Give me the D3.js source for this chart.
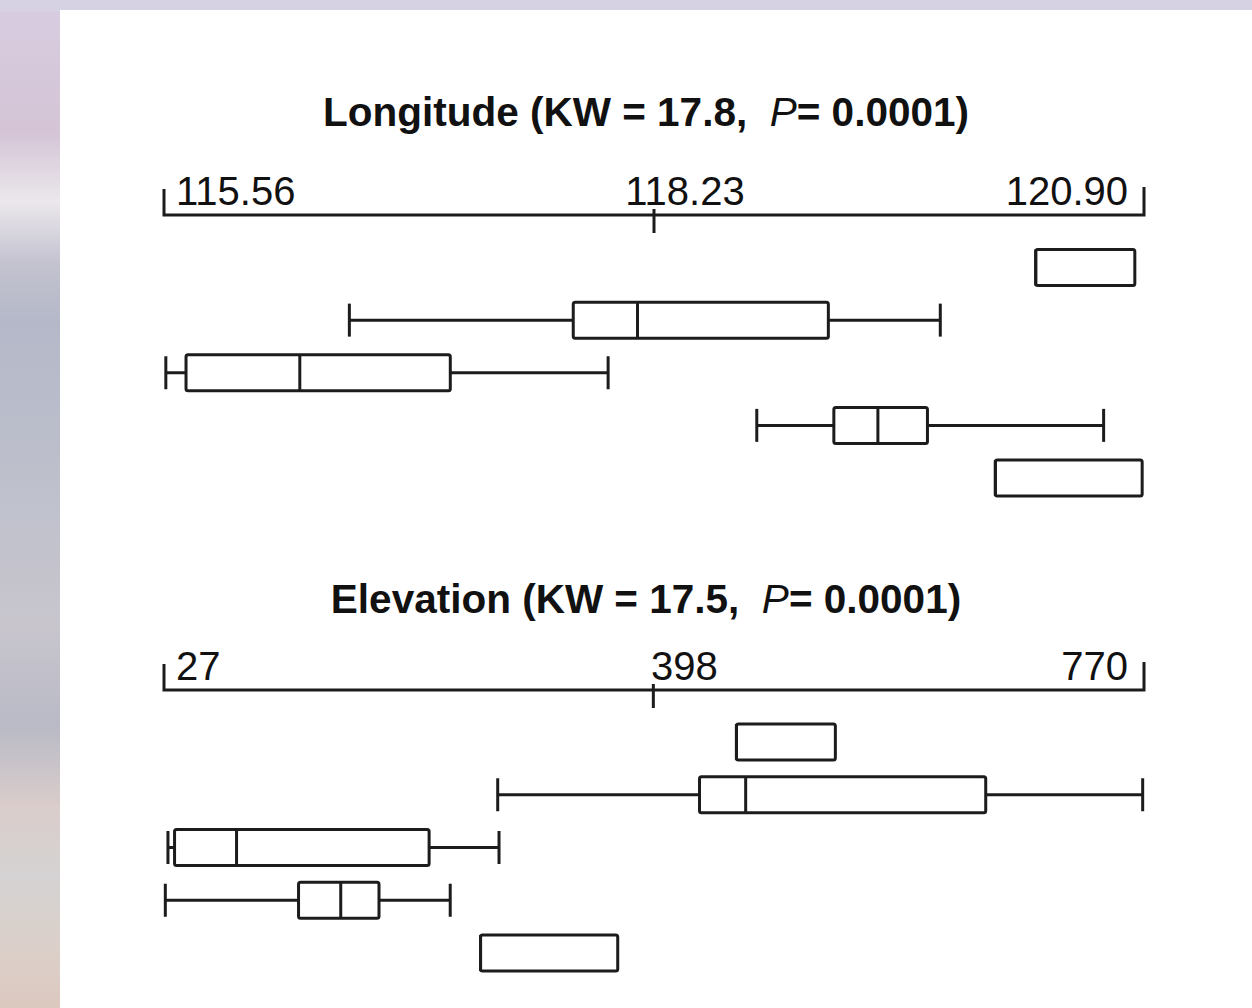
<!DOCTYPE html>
<html>
<head>
<meta charset="utf-8">
<script src="https://cdn.jsdelivr.net/npm/d3@7"></script>
<style>
  body { margin: 0; }
  svg { display: block; }
</style>
</head>
<body>
<div id="chart"></div>
<script>
// five groups, one box per row (top to bottom)
const groups = ['1', '2', '3', '4', '5'];

// Longitude (degrees E)
const lonTicks = [115.56, 118.23, 120.90];
const lonMin = [120.31, 116.57, 115.57, 118.79, 120.09];
const lonQ1  = [120.31, 117.79, 115.68, 119.21, 120.09];
const lonMed = [120.31, 118.14, 116.30, 119.45, 120.09];
const lonQ3  = [120.85, 119.18, 117.12, 119.72, 120.89];
const lonMax = [120.85, 119.79, 117.98, 120.68, 120.89];

// Elevation (m)
const elevTicks = [27, 398, 770];
const elevMin = [461, 280, 30, 28, 267];
const elevQ1  = [461, 433, 35, 129, 267];
const elevMed = [461, 468, 82, 161, 267];
const elevQ3  = [536, 650, 228, 190, 371];
const elevMax = [536, 769, 281, 244, 371];

const W = 1252, H = 1008;
const INK = '#1c1c1c';

const svg = d3.select('#chart').append('svg')
    .attr('width', W)
    .attr('height', H);

// blurred photo behind the figure
const defs = svg.append('defs');
const bg = defs.append('linearGradient').attr('id', 'bg')
    .attr('x1', 0).attr('y1', 0).attr('x2', 0).attr('y2', 1);
[[0, '#d8cde1'], [0.13, '#d4c4d6'], [0.2, '#ebe7ec'], [0.26, '#c4c3d0'],
 [0.32, '#b4b8c8'], [0.5, '#bfc1cc'], [0.62, '#c8c5cd'], [0.72, '#b9bac6'],
 [0.8, '#dacdcb'], [0.87, '#d5d3d3'], [0.95, '#dccfc8'], [1, '#dbc8bf']]
    .forEach(s => bg.append('stop').attr('offset', s[0]).attr('stop-color', s[1]));

svg.append('rect').attr('width', W).attr('height', H).attr('fill', 'url(#bg)');
svg.append('rect').attr('x', 0).attr('y', 0).attr('width', W).attr('height', 12)
    .attr('fill', '#d7d2e3');
svg.append('rect').attr('x', 60).attr('y', 10).attr('width', W - 60).attr('height', H - 10)
    .attr('fill', '#ffffff');

function panel(cfg) {
    const g = svg.append('g');

    const x = d3.scaleLinear()
        .domain([cfg.ticks[0], cfg.ticks[cfg.ticks.length - 1]])
        .range([164, 1144]);

    const y = d3.scalePoint()
        .domain(groups)
        .range(cfg.rows);

    // title
    const t = g.append('text')
        .attr('x', 646)
        .attr('y', cfg.titleY)
        .attr('text-anchor', 'middle')
        .attr('font-family', 'Liberation Sans, Arial, sans-serif')
        .attr('font-size', 40.5)
        .attr('fill', '#111');
    t.append('tspan').attr('font-weight', 'bold').text(cfg.title + ' (KW = ' + cfg.kw + ',\u00a0 ');
    t.append('tspan').attr('font-style', 'italic').text('P');
    t.append('tspan').attr('font-weight', 'bold').text('= 0.0001)');

    // axis: line, end brackets and middle tick
    const ay = cfg.axisY;
    const [x0, x1] = x.range();
    g.append('path')
        .attr('d', `M${x0},${ay - 26}V${ay}H${x1}V${ay - 28}`)
        .attr('fill', 'none')
        .attr('stroke', INK)
        .attr('stroke-width', 3);
    g.append('line')
        .attr('x1', x(cfg.ticks[1])).attr('x2', x(cfg.ticks[1]))
        .attr('y1', ay - 6).attr('y2', ay + 18)
        .attr('stroke', INK)
        .attr('stroke-width', 3);

    const fmt = cfg.fmt;
    const lab = g.append('g')
        .attr('font-family', 'Liberation Sans, Arial, sans-serif')
        .attr('font-size', 40)
        .attr('fill', '#111');
    lab.append('text').attr('x', x(cfg.ticks[0]) + 12).attr('y', ay - 10)
        .attr('text-anchor', 'start').text(fmt(cfg.ticks[0]));
    lab.append('text').attr('x', x(cfg.ticks[1]) + 31).attr('y', ay - 10)
        .attr('text-anchor', 'middle').text(fmt(cfg.ticks[1]));
    lab.append('text').attr('x', x(cfg.ticks[2]) - 16).attr('y', ay - 10)
        .attr('text-anchor', 'end').text(fmt(cfg.ticks[2]));

    const data = groups.map((k, i) => ({
        key: k, min: cfg.min[i], q1: cfg.q1[i], med: cfg.med[i], q3: cfg.q3[i], max: cfg.max[i]
    }));

    const boxH = 36, capH = 33;
    const rows = g.selectAll('g.row')
        .data(data)
        .join('g')
        .attr('class', 'row')
        .attr('transform', d => `translate(0,${y(d.key)})`)
        .attr('stroke', INK)
        .attr('stroke-width', 3)
        .attr('fill', 'none');

    // whiskers
    rows.append('line')
        .attr('x1', d => x(d.min)).attr('x2', d => x(d.q1))
        .attr('y1', 0).attr('y2', 0);
    rows.append('line')
        .attr('x1', d => x(d.q3)).attr('x2', d => x(d.max))
        .attr('y1', 0).attr('y2', 0);
    rows.filter(d => d.min < d.q1).append('line')
        .attr('x1', d => x(d.min)).attr('x2', d => x(d.min))
        .attr('y1', -capH / 2).attr('y2', capH / 2);
    rows.filter(d => d.max > d.q3).append('line')
        .attr('x1', d => x(d.max)).attr('x2', d => x(d.max))
        .attr('y1', -capH / 2).attr('y2', capH / 2);

    // box and median
    rows.append('rect')
        .attr('x', d => x(d.q1))
        .attr('y', -boxH / 2)
        .attr('width', d => x(d.q3) - x(d.q1))
        .attr('height', boxH)
        .attr('rx', 2)
        .attr('fill', '#fff');
    rows.append('line')
        .attr('x1', d => x(d.med)).attr('x2', d => x(d.med))
        .attr('y1', -boxH / 2).attr('y2', boxH / 2);
}

panel({
    title: 'Longitude', kw: '17.8', titleY: 126,
    ticks: lonTicks, fmt: d3.format('.2f'), axisY: 215, rows: [267.5, 478],
    min: lonMin, q1: lonQ1, med: lonMed, q3: lonQ3, max: lonMax
});

panel({
    title: 'Elevation', kw: '17.5', titleY: 613,
    ticks: elevTicks, fmt: d3.format('d'), axisY: 690, rows: [742, 953],
    min: elevMin, q1: elevQ1, med: elevMed, q3: elevQ3, max: elevMax
});
</script>
</body>
</html>
